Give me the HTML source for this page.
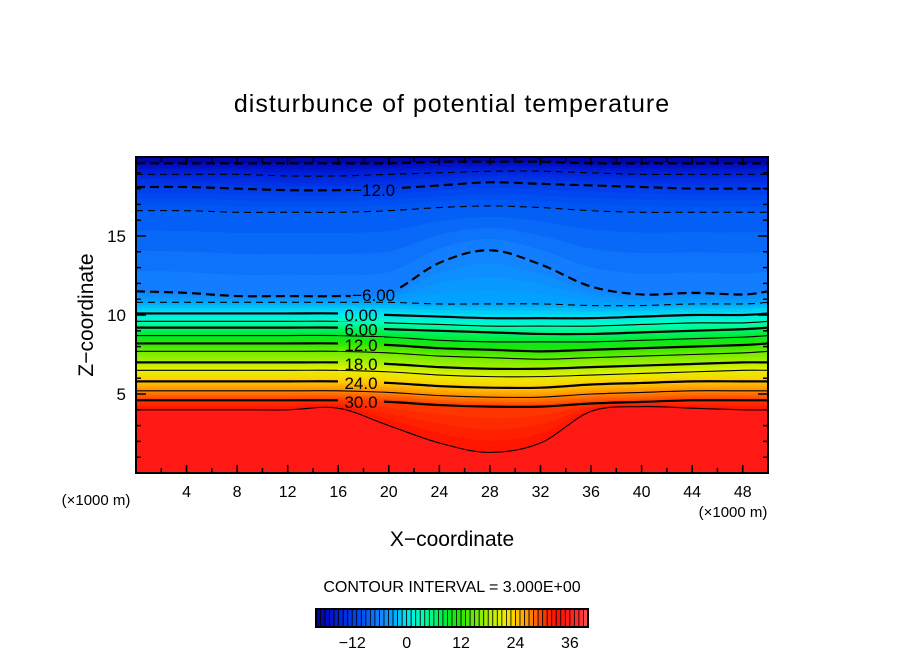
<!DOCTYPE html>
<html><head><meta charset="utf-8"><style>
html,body{margin:0;padding:0;background:#fff;}
svg{display:block;font-family:"Liberation Sans",sans-serif;}
</style></head><body>
<svg id="chart" width="904" height="654" viewBox="0 0 904 654">
<text x="452" y="112" font-size="25" text-anchor="middle" letter-spacing="1">disturbunce of potential temperature</text>
<g id="plot"></g>
<text x="452" y="546" font-size="21" text-anchor="middle">X−coordinate</text>
<text x="93" y="315" font-size="21" text-anchor="middle" transform="rotate(-90 93 315)">Z−coordinate</text>
<text x="96" y="505" font-size="15" text-anchor="middle">(×1000 m)</text>
<text x="733" y="517" font-size="15" text-anchor="middle">(×1000 m)</text>
<text x="452" y="592" font-size="16" text-anchor="middle">CONTOUR INTERVAL = 3.000E+00</text>
<g id="cbar"></g>
</svg>
<script>
// ---- data ----
const xNodes = [0,4,8,12,16,20,24,28,32,36,40,44,48,50];
const levels = [-18,-15,-12,-9,-6,-3,0,3,6,9,12,15,18,21,24,27,30,33];
const heights = [
 [19.6,19.6,19.6,19.6,19.6,19.6,19.7,19.7,19.7,19.6,19.6,19.6,19.6,19.6],
 [18.9,18.9,18.9,18.8,18.8,18.9,19.0,19.1,19.1,19.0,18.9,18.9,18.9,18.9],
 [18.1,18.1,18.0,17.9,17.9,18.0,18.2,18.4,18.3,18.2,18.1,18.0,18.0,18.0],
 [16.6,16.6,16.5,16.5,16.5,16.6,16.8,16.9,16.8,16.6,16.5,16.5,16.5,16.5],
 [11.5,11.4,11.2,11.2,11.2,11.4,13.3,14.1,13.2,11.8,11.3,11.4,11.3,11.5],
 [10.8,10.8,10.8,10.8,10.8,10.8,10.7,10.7,10.7,10.6,10.6,10.7,10.7,10.8],
 [10.1,10.1,10.1,10.1,10.1,10.0,9.9,9.8,9.8,9.8,9.9,10.0,10.0,10.1],
 [9.6,9.6,9.6,9.6,9.6,9.5,9.4,9.3,9.3,9.3,9.4,9.5,9.5,9.6],
 [9.2,9.2,9.2,9.2,9.2,9.1,9.0,8.9,8.8,8.8,8.9,9.0,9.1,9.2],
 [8.7,8.7,8.7,8.7,8.7,8.6,8.4,8.3,8.3,8.3,8.4,8.5,8.6,8.7],
 [8.2,8.2,8.2,8.2,8.2,8.1,7.9,7.8,7.7,7.8,7.9,8.0,8.1,8.2],
 [7.7,7.7,7.7,7.7,7.7,7.6,7.4,7.3,7.2,7.3,7.4,7.5,7.6,7.7],
 [7.0,7.0,7.0,7.0,7.0,6.9,6.7,6.6,6.6,6.7,6.8,6.9,7.0,7.0],
 [6.5,6.5,6.5,6.5,6.5,6.4,6.2,6.1,6.1,6.2,6.3,6.4,6.5,6.5],
 [5.8,5.8,5.8,5.8,5.8,5.7,5.5,5.4,5.4,5.6,5.7,5.8,5.8,5.8],
 [5.2,5.2,5.2,5.2,5.2,5.1,4.9,4.8,4.8,5.0,5.1,5.2,5.2,5.2],
 [4.6,4.6,4.6,4.6,4.6,4.5,4.3,4.2,4.2,4.4,4.5,4.6,4.6,4.6],
 [4.0,4.0,4.0,4.0,4.1,3.0,1.9,1.3,1.9,3.9,4.2,4.1,4.0,4.0]
];
const labelTexts = ["−12.0","−6.00","0.00","6.00","12.0","18.0","24.0","30.0"];
const labelLevels = [-12,-6,0,6,12,18,24,30];
const labelX = [18.8,18.8,17.8,17.8,17.8,17.8,17.8,17.8];
const xTicks = [4,8,12,16,20,24,28,32,36,40,44,48];
const zTicks = [5,10,15];
const cbarTicks = [-12,0,12,24,36];

// ---- scales ----
const X0=136,X1=768,Y0=473,Y1=157;
const sx = x => X0 + x*(X1-X0)/50;
const sz = z => Y0 - z*(Y0-Y1)/20;
const stops=[[-21,[0,0,150]],[-18,[0,10,190]],[-15,[0,35,220]],[-12,[0,60,235]],[-9,[0,90,245]],[-6,[20,130,255]],[-3,[0,165,255]],[0,[0,230,240]],[3,[0,255,190]],[6,[0,245,120]],[9,[0,235,40]],[12,[40,230,0]],[15,[110,235,0]],[18,[170,240,0]],[21,[230,240,0]],[24,[255,205,0]],[27,[255,140,0]],[30,[255,60,0]],[33,[255,15,0]],[36,[255,30,30]],[39,[255,60,60]],[42,[255,150,150]]];
function cmap(v){
  if(v<=stops[0][0]) return 'rgb('+stops[0][1]+')';
  for(let i=1;i<stops.length;i++){ if(v<=stops[i][0]){const a=stops[i-1],b=stops[i];const t=(v-a[0])/(b[0]-a[0]);
    const c=a[1].map((q,k)=>Math.round(q+(b[1][k]-q)*t));return 'rgb('+c+')';}}
  return 'rgb('+stops[stops.length-1][1]+')';
}
const NS='http://www.w3.org/2000/svg';
function mk(tag,attrs,parent){const e=document.createElementNS(NS,tag);for(const k in attrs)e.setAttribute(k,attrs[k]);parent.appendChild(e);return e;}
function segs(p){let d='';
  for(let i=0;i<p.length-1;i++){
    const p0=p[Math.max(0,i-1)],p1=p[i],p2=p[i+1],p3=p[Math.min(p.length-1,i+2)];
    const c1=[p1[0]+(p2[0]-p0[0])/6,p1[1]+(p2[1]-p0[1])/6],c2=[p2[0]-(p3[0]-p1[0])/6,p2[1]-(p3[1]-p1[1])/6];
    d+=' C'+c1+' '+c2+' '+p2;}
  return d;}
function curve(row){const p=xNodes.map((x,i)=>[sx(x),sz(row[i])]);return 'M'+p[0]+segs(p);}
function revCurve(row){const p=xNodes.map((x,i)=>[sx(x),sz(row[i])]).reverse();return segs(p);}
const plot=document.getElementById('plot');
const defs=mk('defs',{},plot);
const cp=mk('clipPath',{id:'clip'},defs);mk('rect',{x:X0,y:Y1,width:X1-X0,height:Y0-Y1},cp);
const mask=mk('mask',{id:'lblmask'},defs);
mk('rect',{x:0,y:0,width:904,height:654,fill:'#fff'},mask);
const fills=mk('g',{'clip-path':'url(#clip)'},plot);
let r0=mk('rect',{x:X0,y:Y1,width:X1-X0,height:Y0-Y1,fill:cmap(36)},fills);


const topRow=xNodes.map(()=>20.3), botRow=xNodes.map(()=>-0.5);
const SUB=4;
for(let i=-1;i<levels.length;i++){
  const upper = i<0 ? topRow : heights[i];
  const lower = i+1<levels.length ? heights[i+1] : botRow;
  const vU = i<0 ? levels[0]+3 : levels[i];
  const vL = i+1<levels.length ? levels[i+1] : levels[i]+3;
  const n = (i<0 || i+1>=levels.length) ? 1 : SUB;
  for(let s=0;s<n;s++){
    const t0=s/n,t1=(s+1)/n;
    const u=upper.map((h,k)=>h+(lower[k]-h)*t0), l=upper.map((h,k)=>h+(lower[k]-h)*t1);
    const v = n===1 ? (i<0?levels[0]-1.5:levels[i]+2) : vU+(vL-vU)*(t0+t1)/2;
    const d=curve(u)+' L'+sx(50)+','+sz(l[l.length-1])+revCurve(l)+' Z';
    const b=mk('path',{d:d,fill:cmap(v),stroke:cmap(v),'stroke-width':0.6},fills);
    
    
  }
}
const lines=mk('g',{'clip-path':'url(#clip)',mask:'url(#lblmask)'},plot);
const lblg=mk('g',{},plot);
labelLevels.forEach((lv,k)=>{
  const i=levels.indexOf(lv);const x=labelX[k];
  let j=0;while(xNodes[j+1]<x)j++;const t=(x-xNodes[j])/(xNodes[j+1]-xNodes[j]);
  const z=heights[i][j]+(heights[i][j+1]-heights[i][j])*t;
  const px=sx(x),py=sz(z);
  mk('rect',{x:px-23,y:py-7,width:46,height:14,fill:'#000'},mask);
  const tx=mk('text',{x:px,y:py+7,'font-size':17,'text-anchor':'middle'},lblg);
  tx.textContent=labelTexts[k];
  
  
});
levels.forEach((lv,i)=>{
  const major = lv%6===0;
  const a={d:curve(heights[i]),fill:'none',stroke:'#000','stroke-width':major?2.2:1.1};
  if(lv<0) a['stroke-dasharray']=major?'9,5':'7,5';
  const l=mk('path',a,lines);
  
  
});
const fr=mk('rect',{x:X0,y:Y1,width:X1-X0,height:Y0-Y1,fill:'none',stroke:'#000','stroke-width':2},plot);


const tk=mk('g',{stroke:'#000','stroke-width':1.5},plot);
for(let x=2;x<50;x+=2){const L=(x%4===0)?8:5;
  mk('line',{x1:sx(x),y1:Y0,x2:sx(x),y2:Y0-L},tk);mk('line',{x1:sx(x),y1:Y1,x2:sx(x),y2:Y1+L},tk);}
for(let z=1;z<20;z++){const L=(z%5===0)?10:5;
  mk('line',{x1:X0,y1:sz(z),x2:X0+L,y2:sz(z)},tk);mk('line',{x1:X1,y1:sz(z),x2:X1-L,y2:sz(z)},tk);}
xTicks.forEach(v=>{const t=mk('text',{x:sx(v),y:497,'font-size':16,'text-anchor':'middle'},plot);t.textContent=v;
  
  });
zTicks.forEach(v=>{const t=mk('text',{x:126,y:sz(v)+6,'font-size':17,'text-anchor':'end'},plot);t.textContent=v;
  
  });
const cb=document.getElementById('cbar');
const CB0=316,CB1=588,cv0=-20,cv1=40;const cs=v=>CB0+(v-cv0)*(CB1-CB0)/(cv1-cv0);
for(let v=cv0;v<cv1;v++){const r=mk('rect',{x:cs(v),y:609,width:cs(v+1)-cs(v),height:18,fill:cmap(v+0.5),stroke:'#000','stroke-width':0.8},cb);
  
  }
mk('rect',{x:CB0,y:609,width:CB1-CB0,height:18,fill:'none',stroke:'#000','stroke-width':2},cb);
cbarTicks.forEach(v=>{const t=mk('text',{x:cs(v),y:648,'font-size':16,'text-anchor':'middle'},cb);t.textContent=(v<0?'−':'')+Math.abs(v);
  
  });
</script>
</body></html>
